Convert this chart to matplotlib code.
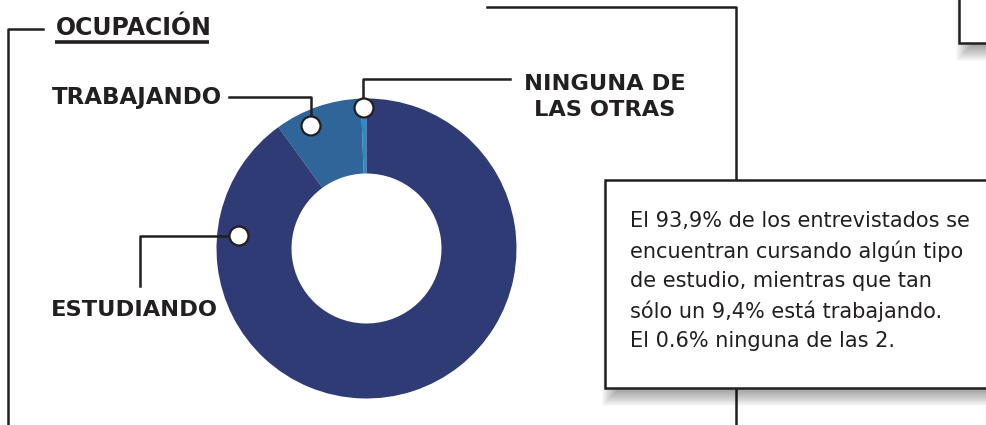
import matplotlib
matplotlib.use("Agg")
import numpy as np
from matplotlib import pyplot as plt
from matplotlib.patches import Rectangle, Circle

# data (share of respondents, %)
categories = ["NINGUNA DE\nLAS OTRAS", "TRABAJANDO", "ESTUDIANDO"]
values = [0.6, 9.4, 90.0]
colors = ["#2b8cc4", "#30659a", "#2e3b74"]

summary = ("El 93,9% de los entrevistados se\n"
           "encuentran cursando algún tipo\n"
           "de estudio, mientras que tan\n"
           "sólo un 9,4% está trabajando.\n"
           "El 0.6% ninguna de las 2.")

ink = "#231f20"
W, H = 987, 425

fig = plt.figure(figsize=(W / 100, H / 100), dpi=100)
ax = fig.add_axes([0, 0, 1, 1])

# donut (y axis is flipped, so start at -90 and go clockwise in data space)
cx, cy, R = 366.5, 248.5, 150
ax.pie(values, colors=colors, startangle=-90, counterclock=False,
       center=(cx, cy), radius=R, frame=True,
       wedgeprops=dict(width=75, linewidth=0))
ax.set_xlim(0, W)
ax.set_ylim(H, 0)
ax.set_aspect("equal")
ax.axis("off")


def shadow(x, y, w, h):
    # soft drop shadow, shifted down
    for k in range(-8, 8):
        ax.add_patch(Rectangle((x + 5 + k, y + 10 + k), w - 2 * k, h - 2 * k,
                               facecolor="black", edgecolor="none", alpha=0.024, zorder=4))


lw = 1.8
# frame lines
ax.plot([43, 8, 8], [29, 29, H + 5], color=ink, lw=lw, zorder=2)
ax.plot([487, 736, 736], [7, 7, H + 5], color=ink, lw=lw, zorder=2)

# title
ax.text(56, 28, "OCUPACIÓN", fontsize=17, fontweight="bold", color=ink,
        ha="left", va="center")
ax.plot([55, 209], [42, 42], color=ink, lw=2.6, solid_capstyle="butt")

# leader lines and markers
ax.plot([229, 311, 311], [97, 97, 116], color=ink, lw=lw, zorder=3)
ax.plot([510, 363, 363], [79, 79, 98], color=ink, lw=lw, zorder=3)
ax.plot([140, 140, 228], [286, 236, 236], color=ink, lw=lw, zorder=3)
for mx, my in [(311, 126), (364, 108), (239, 236)]:
    ax.add_patch(Circle((mx, my), 9.5, facecolor="white", edgecolor=ink,
                        lw=1.6, zorder=5))

# labels
ax.text(222, 97, categories[1], fontsize=16.5, fontweight="bold", color=ink,
        ha="right", va="center")
ax.text(605, 97, categories[0], fontsize=16.2, fontweight="bold", color=ink,
        ha="center", va="center", linespacing=1.4)
ax.text(134, 310, categories[2], fontsize=16.2, fontweight="bold", color=ink,
        ha="center", va="center")

# top right partial box
shadow(959, -20, 60, 63)
ax.add_patch(Rectangle((959, -20), 60, 63, facecolor="white", edgecolor=ink,
                       lw=lw, zorder=6))

# text box
shadow(605, 180, 400, 208)
ax.add_patch(Rectangle((605, 180), 400, 208, facecolor="white", edgecolor=ink,
                       lw=lw, zorder=6))
ax.text(630, 281, summary, fontsize=15, color=ink, ha="left", va="center",
        linespacing=1.55, zorder=7)

fig.savefig("out.png", dpi=100)
